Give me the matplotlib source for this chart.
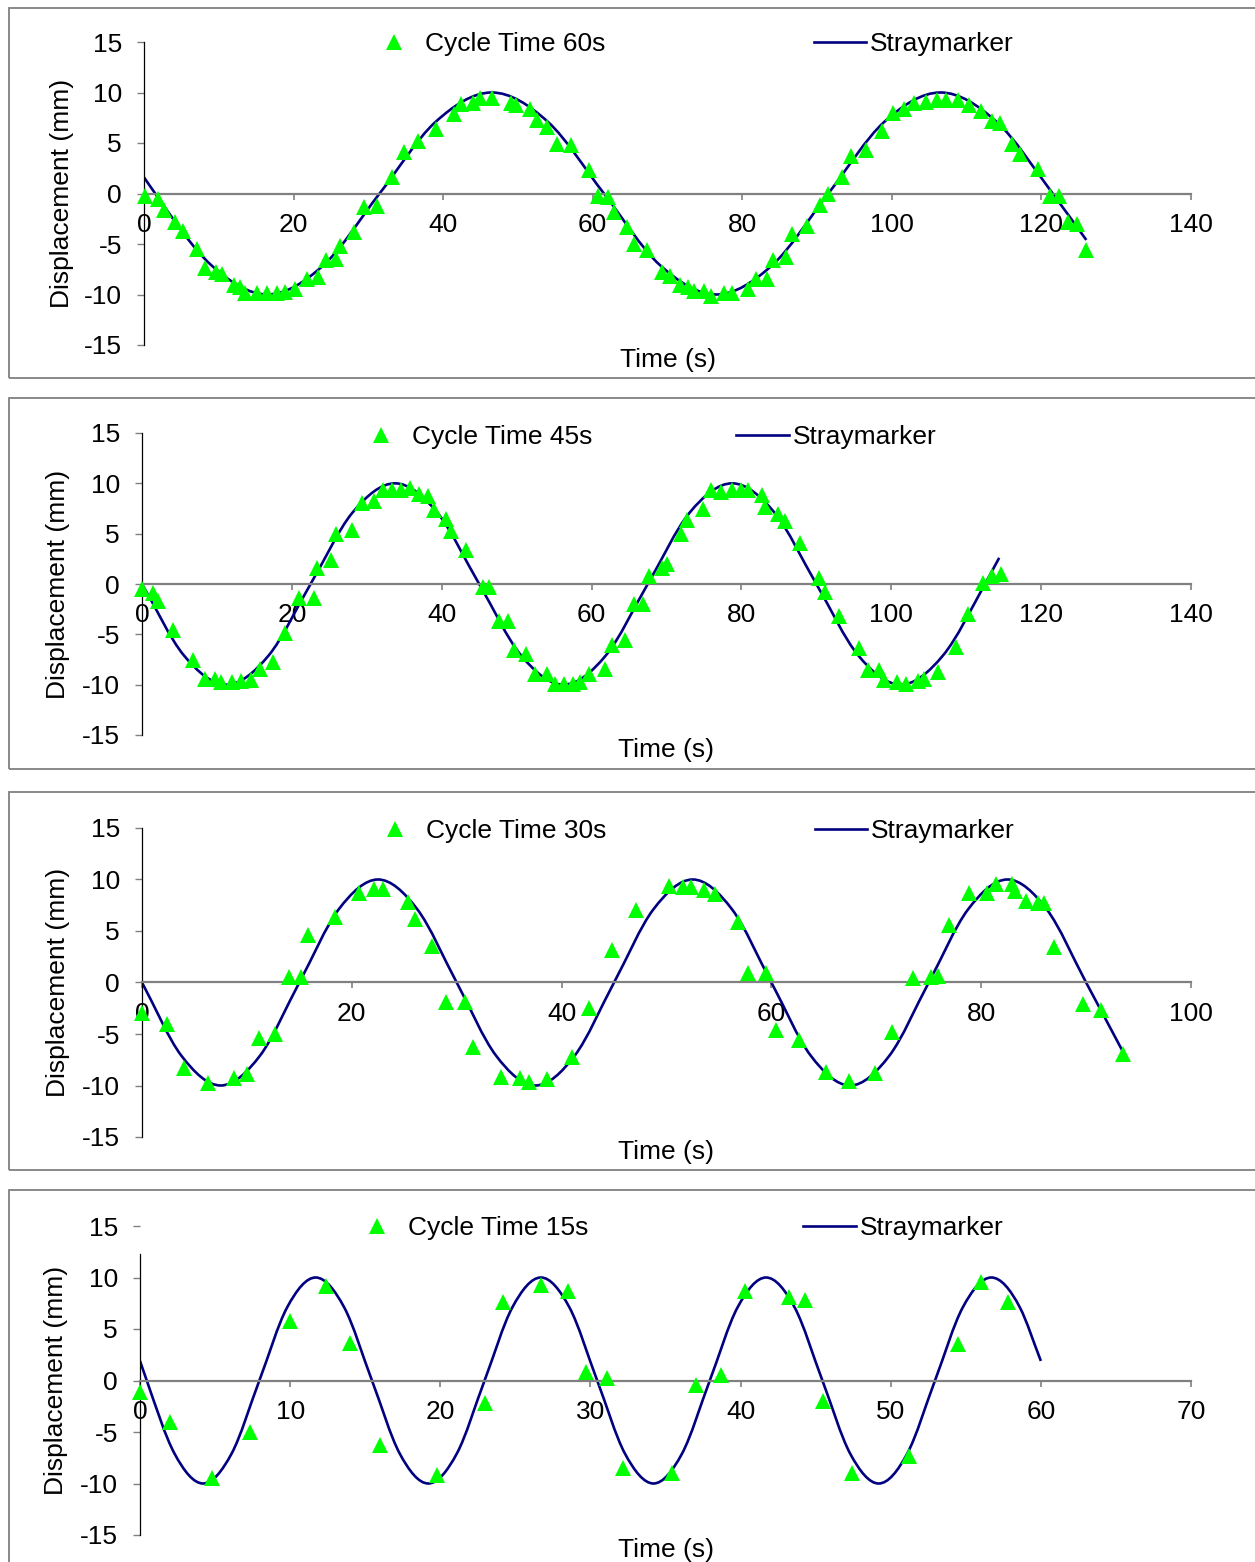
import numpy as np
import matplotlib
matplotlib.use("Agg")
import matplotlib.pyplot as plt
from matplotlib.path import Path
from matplotlib.patches import PathPatch, Rectangle

plt.rcParams['font.family'] = ['Liberation Sans', 'DejaVu Sans']
plt.rcParams['font.size'] = 19
plt.rcParams['axes.unicode_minus'] = False

# measured displacement, cycle time 60s
t60 = [0.1, 1.9, 2.7, 4.1, 5.2, 7.1, 8.1, 9.6, 10.4, 12.1, 12.9, 13.5, 15.1, 16.4, 17.8, 18.9, 20.2, 21.8, 23.2, 24.3,
       25.7, 26.2, 28.1, 29.4, 31.1, 33.1, 34.7, 36.6, 39.0, 41.4, 42.4, 44.0, 44.9, 46.5, 49.1, 49.7, 51.6, 52.5, 53.9, 55.2,
       57.1, 59.5, 60.7, 62.1, 62.8, 64.6, 65.5, 67.3, 69.2, 70.4, 71.7, 72.8, 73.5, 74.9, 75.8, 77.6, 78.6, 80.7, 81.9, 83.3,
       84.1, 85.8, 86.6, 88.6, 90.4, 91.5, 93.3, 94.5, 96.5, 98.7, 100.1, 101.6, 102.9, 104.5, 106.0, 107.3, 108.8, 110.3,
       111.9, 113.4, 114.4, 116.0, 117.2, 119.5, 121.1, 122.4, 123.5, 124.8, 126.0]
d60 = [-0.2, -0.5, -1.6, -2.8, -3.7, -5.5, -7.4, -7.8, -8.0, -9.1, -9.3, -9.9, -9.9, -9.9, -9.9, -9.8, -9.5, -8.5, -8.3, -6.6,
       -6.5, -5.2, -3.8, -1.3, -1.2, 1.6, 4.1, 5.2, 6.4, 7.9, 8.9, 9.0, 9.5, 9.5, 9.0, 8.8, 8.4, 7.3, 6.6, 4.9,
       4.8, 2.3, -0.2, -0.3, -1.8, -3.3, -5.0, -5.6, -7.8, -8.2, -9.1, -9.3, -9.7, -9.7, -10.1, -9.9, -9.9, -9.5, -8.5, -8.5,
       -6.6, -6.3, -4.0, -3.2, -1.1, 0.0, 1.6, 3.7, 4.3, 6.2, 8.0, 8.4, 9.0, 9.1, 9.3, 9.3, 9.3, 8.8,
       8.2, 7.2, 7.0, 4.9, 3.9, 2.4, -0.2, -0.2, -2.8, -3.0, -5.6]

# cycle time 45s
t45 = [0.0, 1.5, 2.2, 4.1, 6.8, 8.4, 9.8, 10.6, 12.0, 13.2, 14.6, 15.8, 17.5, 19.1, 21.0, 22.9, 23.4, 25.2, 25.9, 28.0,
       29.4, 30.9, 32.1, 33.4, 34.6, 35.8, 37.0, 38.2, 39.0, 40.6, 41.3, 43.3, 45.5, 46.3, 47.6, 48.9, 49.6, 51.3, 52.5, 54.1,
       55.1, 56.3, 57.5, 58.5, 59.6, 61.8, 62.7, 64.4, 65.6, 66.9, 67.7, 69.4, 70.1, 72.0, 72.7, 74.9, 76.0, 77.3, 78.7, 80.0,
       80.9, 82.7, 83.2, 84.9, 85.8, 87.8, 90.4, 91.2, 93.0, 95.7, 96.9, 98.4, 99.0, 100.8, 102.0, 103.5, 104.4, 106.2,
       108.6, 110.2, 112.2, 113.5, 114.7]
d45 = [-0.5, -0.9, -1.7, -4.6, -7.5, -9.4, -9.4, -9.7, -9.7, -9.6, -9.5, -8.4, -7.7, -4.9, -1.4, -1.4, 1.6, 2.4, 5.0, 5.4,
       8.0, 8.2, 9.3, 9.3, 9.3, 9.5, 8.9, 8.7, 7.4, 6.5, 5.3, 3.4, -0.3, -0.3, -3.7, -3.7, -6.6, -7.0, -8.9, -8.9,
       -9.9, -9.9, -9.9, -9.7, -8.9, -8.4, -6.1, -5.6, -2.0, -2.0, 0.8, 1.6, 2.0, 5.0, 6.4, 7.5, 9.3, 9.1, 9.3, 9.3,
       9.3, 8.8, 7.6, 7.0, 6.3, 4.1, 0.6, -0.8, -3.2, -6.4, -8.5, -8.5, -9.5, -9.7, -9.9, -9.6, -9.4, -8.7,
       -6.3, -3.0, 0.1, 0.8, 1.0]

# cycle time 30s
t30 = [0.0, 2.4, 4.0, 6.3, 8.8, 10.0, 11.2, 12.7, 14.0, 15.2, 15.8, 18.4, 20.7, 22.1, 23.0, 25.4, 26.0, 27.6, 29.0, 30.8,
       31.6, 34.2, 36.0, 36.9, 38.6, 41.0, 42.6, 44.8, 47.1, 50.2, 51.6, 52.3, 53.6, 54.6, 56.8, 57.8, 59.5, 60.4, 62.6, 65.2,
       67.4, 69.9, 71.5, 73.5, 75.2, 75.9, 76.9, 78.8, 80.6, 81.4, 82.9, 83.2, 84.3, 85.4, 86.0, 86.9, 89.7, 91.4, 93.5]
d30 = [-3.0, -4.0, -8.3, -9.8, -9.3, -8.9, -5.4, -5.0, 0.5, 0.5, 4.6, 6.4, 8.7, 9.1, 9.1, 7.8, 6.2, 3.5, -1.9, -1.9,
       -6.3, -9.2, -9.3, -9.7, -9.4, -7.2, -2.5, 3.2, 7.0, 9.4, 9.3, 9.3, 9.0, 8.6, 5.9, 0.9, 0.9, -4.6, -5.6, -8.7,
       -9.6, -8.8, -4.8, 0.4, 0.5, 0.6, 5.6, 8.7, 8.7, 9.6, 9.6, 8.9, 7.9, 7.7, 7.7, 3.4, -2.1, -2.7, -6.9]

# cycle time 15s
t15 = [0.0, 2.0, 4.8, 7.3, 10.0, 12.4, 14.0, 16.0, 19.8, 23.0, 24.2, 26.7, 28.5, 29.7, 31.1, 32.2, 35.4, 37.0, 38.7, 40.3,
       43.2, 44.3, 45.5, 47.4, 51.2, 54.5, 56.0, 57.8]
d15 = [-1.1, -4.0, -9.5, -5.0, 5.8, 9.2, 3.6, -6.3, -9.2, -2.2, 7.6, 9.3, 8.7, 0.8, 0.2, -8.5, -9.0, -0.4, 0.5, 8.7,
       8.1, 7.8, -2.0, -9.0, -7.3, 3.5, 9.6, 7.6]

# Straymarker curve, read at its peaks, troughs, crossings and midpoints
lt60 = [0, 1.5, 9, 16.5, 24, 31.5, 39, 46.5, 54, 61.5, 69, 76.5, 84, 91.5, 99, 106.5, 114, 121.5, 126]
ld60 = [1.6, 0, -7.1, -10, -7.1, 0, 7.1, 10, 7.1, 0, -7.1, -10, -7.1, 0, 7.1, 10, 7.1, 0, -4.6]
lt45 = [0, 5.6, 11.3, 16.9, 22.5, 28.1, 33.8, 39.4, 45, 50.6, 56.3, 61.9, 67.5, 73.1, 78.8, 84.4, 90, 95.6, 101.3,
        106.9, 112.5, 114.4]
ld45 = [0, -7.1, -10, -7.1, 0, 7.1, 10, 7.1, 0, -7.1, -10, -7.1, 0, 7.1, 10, 7.1, 0, -7.1, -10, -7.1, 0, 2.6]
lt30 = [0, 3.75, 7.5, 11.25, 15, 18.75, 22.5, 26.25, 30, 33.75, 37.5, 41.25, 45, 48.75, 52.5, 56.25, 60, 63.75, 67.5,
        71.25, 75, 78.75, 82.5, 86.25, 90, 93.5]
ld30 = [0, -7.1, -10, -7.1, 0, 7.1, 10, 7.1, 0, -7.1, -10, -7.1, 0, 7.1, 10, 7.1, 0, -7.1, -10, -7.1, 0, 7.1, 10, 7.1,
        0, -6.7]
lt15 = [0, 0.45, 2.3, 4.2, 6.1, 7.95, 9.8, 11.7, 13.6, 15.45, 17.3, 19.2, 21.1, 22.95, 24.8, 26.7, 28.6, 30.45, 32.3,
        34.2, 36.1, 37.95, 39.8, 41.7, 43.6, 45.45, 47.3, 49.2, 51.1, 52.95, 54.8, 56.7, 58.6, 60]
ld15 = [1.9, 0, -7.1, -10, -7.1, 0, 7.1, 10, 7.1, 0, -7.1, -10, -7.1, 0, 7.1, 10, 7.1, 0, -7.1, -10, -7.1, 0, 7.1,
        10, 7.1, 0, -7.1, -10, -7.1, 0, 7.1, 10, 7.1, 1.9]

W, H = 1255, 1562


def smooth_path(t, y):
    # Excel-like smoothed line: cubic bezier segments through the read points
    t = np.asarray(t, float)
    y = np.asarray(y, float)
    m = np.gradient(y, t)
    verts = [(t[0], y[0])]
    codes = [Path.MOVETO]
    for i in range(len(t) - 1):
        h = t[i + 1] - t[i]
        verts += [(t[i] + h / 3, y[i] + m[i] * h / 3),
                  (t[i + 1] - h / 3, y[i + 1] - m[i + 1] * h / 3),
                  (t[i + 1], y[i + 1])]
        codes += [Path.CURVE4] * 3
    return Path(verts, codes)


# pixel layout of each chart: axes box, frame, legend
panels = [
    dict(t=t60, d=d60, lt=lt60, ld=ld60, name='Cycle Time 60s', xmax=140, xstep=20,
         box=(144, 1191, 42, 345), frame=(8, 378), leg=(368, 44), cs=7.9, ylab=62),
    dict(t=t45, d=d45, lt=lt45, ld=ld45, name='Cycle Time 45s', xmax=140, xstep=20,
         box=(142, 1191, 433, 735), frame=(398, 769), leg=(355, 437), cs=5.45, ylab=58),
    dict(t=t30, d=d30, lt=lt30, ld=ld30, name='Cycle Time 30s', xmax=100, xstep=20,
         box=(142, 1191, 828, 1137), frame=(792, 1170), leg=(369, 831), cs=7.9, ylab=58),
    dict(t=t15, d=d15, lt=lt15, ld=ld15, name='Cycle Time 15s', xmax=70, xstep=10,
         box=(140, 1191, 1226, 1535), frame=(1190, 1600), leg=(351, 1228), cs=8.15, ylab=56),
]

fig = plt.figure(figsize=(W / 100, H / 100), dpi=100)

for k, p in enumerate(panels):
    x0, x1, ytop, ybot = p['box']
    ftop, fbot = p['frame']
    fig.patches.append(Rectangle((9 / W, 1 - fbot / H), 1.2, (fbot - ftop) / H, transform=fig.transFigure,
                                 fill=False, edgecolor='#808080', linewidth=1.3, zorder=0))

    ax = fig.add_axes([x0 / W, 1 - ybot / H, (x1 - x0) / W, (ybot - ytop) / H])
    ax.patch.set_alpha(0)

    ax.add_patch(PathPatch(smooth_path(p['lt'], p['ld']), fill=False, edgecolor='#000080',
                           linewidth=1.9, zorder=2))
    ln, = ax.plot([], [], color='#000080', linewidth=1.9)
    mk, = ax.plot(p['t'], p['d'], linestyle='none', marker='^', markersize=11,
                  color='#00FF00', markeredgewidth=0, zorder=3, clip_on=False)

    ax.set_xlim(0, p['xmax'])
    ax.set_ylim(-15, 15)
    ax.set_xticks(np.arange(0, p['xmax'] + 1, p['xstep']))
    ax.set_yticks(np.arange(-15, 16, 5))

    for s in ['top', 'right']:
        ax.spines[s].set_visible(False)
    ax.spines['bottom'].set_position(('data', 0))
    ax.spines['bottom'].set_color('#808080')
    ax.spines['bottom'].set_linewidth(1.6)
    ax.spines['left'].set_color('black')
    ax.spines['left'].set_linewidth(0.9)
    if k == 3:
        ax.spines['left'].set_bounds(-15, 12.3)

    ax.tick_params(axis='x', direction='out', length=4, width=1.2, color='#808080', pad=10, labelsize=19)
    ax.tick_params(axis='y', direction='out', length=5, width=1.0, color='#808080', pad=11, labelsize=19)

    ax.set_xlabel('Time (s)', fontsize=19)
    ax.xaxis.set_label_coords(0.5, -15 / (ybot - ytop))
    ax.xaxis.label.set_va('center')
    ax.set_ylabel('Displacement (mm)', fontsize=19)
    ax.yaxis.set_label_coords((p['ylab'] - x0) / (x1 - x0), 0.5)
    ax.yaxis.label.set_va('center')

    lx, ly = p['leg']
    ax.legend([mk, ln], [p['name'], 'Straymarker'], ncol=2, frameon=False, loc='center left',
              bbox_to_anchor=(lx / W, 1 - ly / H), bbox_transform=fig.transFigure,
              borderpad=0, borderaxespad=0, handlelength=2.0, handletextpad=0.15,
              columnspacing=p['cs'], numpoints=1, fontsize=19)

fig.savefig('out.png', dpi=100)
